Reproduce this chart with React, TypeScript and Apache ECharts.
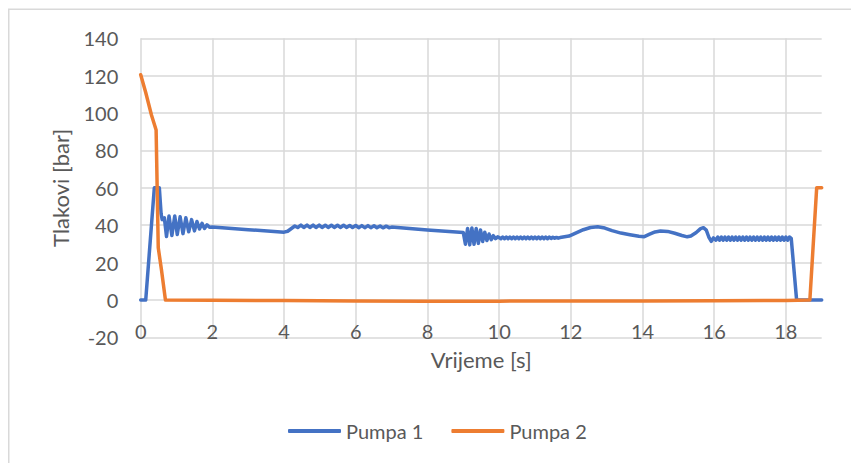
import React, { useEffect, useRef } from "react";
import * as echarts from "echarts";

const seriesNames = ["Pumpa 1", "Pumpa 2"];
const xAxisTitle = "Vrijeme [s]";
const yAxisTitle = "Tlakovi [bar]";

// Pumpa 1: [time s, pressure bar]
const pump1: [number, number][] = [
  [0, 0], [0.14, 0], [0.38, 60], [0.52, 60], [0.57, 46], [0.6, 43], [0.66, 44],
  [0.72, 34], [0.79, 45], [0.87, 34.5], [0.95, 45], [1.02, 35], [1.1, 44.5], [1.18, 35.5],
  [1.26, 44], [1.34, 36.5], [1.42, 43], [1.5, 37], [1.57, 42], [1.64, 38], [1.71, 41],
  [1.78, 38.3], [1.85, 40.2], [1.92, 38.9], [2.0, 39.0],
  [3.0, 37.6], [4.0, 36.3], [4.1, 36.8], [4.3, 39.6],
  [4.38, 38.8], [4.47, 40.1], [4.55, 38.8], [4.64, 40.1], [4.72, 38.8], [4.81, 40.1],
  [4.89, 38.8], [4.98, 40.1], [5.06, 38.8], [5.15, 40.0], [5.23, 38.8], [5.32, 40.0],
  [5.4, 38.8], [5.49, 40.0], [5.57, 38.8], [5.66, 40.0], [5.74, 38.8], [5.83, 39.9],
  [5.91, 38.8], [6.0, 39.9], [6.08, 38.7], [6.17, 39.8], [6.25, 38.7], [6.34, 39.8],
  [6.42, 38.7], [6.51, 39.7], [6.59, 38.7], [6.68, 39.6], [6.76, 38.6], [6.85, 39.5],
  [6.93, 38.7], [7.0, 39.0],
  [8.0, 37.4], [9.0, 36.1],
  [9.06, 29.8], [9.12, 38.3], [9.18, 29.5], [9.24, 38.5], [9.3, 29.8], [9.36, 38.2],
  [9.42, 30.3], [9.48, 37.5], [9.54, 31.3], [9.6, 36.3], [9.66, 31.8], [9.72, 35.3],
  [9.78, 32.3], [9.84, 34.4], [9.9, 32.8], [9.96, 33.8],
  [10.0, 33.4], [10.05, 32.8], [10.1, 33.7], [10.15, 32.8], [10.2, 33.7], [10.25, 32.8],
  [10.3, 33.7], [10.35, 32.8], [10.4, 33.7], [10.45, 32.8], [10.5, 33.7], [10.55, 32.8],
  [10.6, 33.7], [10.65, 32.8], [10.7, 33.7], [10.75, 32.8], [10.8, 33.7], [10.85, 32.8],
  [10.9, 33.7], [10.95, 32.8], [11.0, 33.7], [11.05, 32.8], [11.1, 33.7], [11.15, 32.8],
  [11.2, 33.7], [11.25, 32.8], [11.3, 33.7], [11.35, 32.8], [11.4, 33.7], [11.45, 32.9],
  [11.5, 33.6], [11.55, 33.0], [11.6, 33.5], [11.65, 33.1], [11.7, 33.4],
  [11.95, 34.2], [12.15, 35.9], [12.35, 37.6], [12.55, 38.8], [12.75, 39.2], [12.95, 38.5],
  [13.15, 37.1], [13.4, 35.8], [13.65, 34.9], [13.9, 34.1], [14.05, 33.9], [14.2, 35.2],
  [14.35, 36.4], [14.5, 36.9], [14.7, 36.7], [14.9, 35.7], [15.1, 34.5], [15.25, 33.8],
  [15.35, 34.2], [15.5, 36.1], [15.62, 38.2], [15.7, 38.7], [15.78, 37.4], [15.85, 33.7],
  [15.92, 31.4], [15.98, 33.2],
  [16.05, 32.0], [16.1, 33.7], [16.15, 32.0], [16.2, 33.7], [16.25, 32.0], [16.3, 33.7],
  [16.35, 32.0], [16.4, 33.7], [16.45, 32.0], [16.5, 33.7], [16.55, 32.0], [16.6, 33.7],
  [16.65, 32.0], [16.7, 33.7], [16.75, 32.0], [16.8, 33.7], [16.85, 32.0], [16.9, 33.7],
  [16.95, 32.0], [17.0, 33.7], [17.05, 32.0], [17.1, 33.7], [17.15, 32.0], [17.2, 33.7],
  [17.25, 32.0], [17.3, 33.7], [17.35, 32.0], [17.4, 33.7], [17.45, 32.0], [17.5, 33.7],
  [17.55, 32.0], [17.6, 33.7], [17.65, 32.0], [17.7, 33.7], [17.75, 32.0], [17.8, 33.7],
  [17.85, 32.0], [17.9, 33.7], [17.95, 32.0], [18.0, 33.7], [18.05, 32.0], [18.1, 33.7],
  [18.15, 33.0], [18.3, 0], [19.0, 0],
];

// Pumpa 2: [time s, pressure bar]
const pump2: [number, number][] = [
  [0, 120.5], [0.14, 111], [0.3, 99], [0.43, 91], [0.49, 28], [0.58, 16], [0.69, 0],
  [2, -0.1], [4, -0.3], [6, -0.5], [8, -0.6], [10, -0.6], [12, -0.5], [14, -0.5],
  [16, -0.4], [18, -0.2], [18.67, 0], [18.86, 60], [19, 60],
];

const xMin = 0;
const xMax = 19;
const xStep = 2;
const yMin = -20;
const yMax = 140;
const yStep = 20;

const FONT = "Lato";
const TEXT = "#595959";
const GRID = "#d9d9d9";

export default function App() {
  const ref = useRef<HTMLDivElement>(null);
  useEffect(() => {
    if (!ref.current) return;
    const chart = echarts.init(ref.current, null, { renderer: "svg" });
    chart.setOption({
      animation: false,
      backgroundColor: "#ffffff",
      textStyle: { fontFamily: FONT, color: TEXT },
      graphic: [
        {
          type: "rect",
          shape: { x: 8.75, y: 9.25, width: 1000, height: 1000 },
          style: { fill: "none", stroke: GRID, lineWidth: 1.5 },
          silent: true,
        },
      ],
      grid: { left: 140.7, top: 38.3, right: 29.3, bottom: 125.6, containLabel: false },
      legend: {
        data: seriesNames,
        left: 283,
        top: 416,
        icon: "roundRect",
        itemWidth: 53,
        itemHeight: 4,
        itemGap: 28,
        textStyle: { fontFamily: FONT, fontSize: 20, color: TEXT },
      },
      xAxis: {
        type: "value",
        min: xMin,
        max: xMax,
        interval: xStep,
        name: xAxisTitle,
        nameLocation: "middle",
        nameGap: 22,
        nameTextStyle: { fontFamily: FONT, fontSize: 22, color: TEXT, verticalAlign: "middle" },
        axisLine: { show: false, onZero: false },
        axisTick: { show: false },
        axisLabel: {
          fontFamily: FONT,
          fontSize: 20,
          color: TEXT,
          margin: -6.5,
          verticalAlign: "middle",
          showMaxLabel: false,
        },
        splitLine: { show: true, showMaxLine: false, lineStyle: { color: GRID, width: 1.5 } },
      },
      yAxis: {
        type: "value",
        min: yMin,
        max: yMax,
        interval: yStep,
        name: yAxisTitle,
        nameLocation: "middle",
        nameGap: 80,
        nameTextStyle: { fontFamily: FONT, fontSize: 22, color: TEXT, verticalAlign: "middle" },
        axisLine: { show: false },
        axisTick: { show: false },
        axisLabel: { fontFamily: FONT, fontSize: 20, color: TEXT, margin: 22.4 },
        splitLine: { show: true, lineStyle: { color: GRID, width: 1.5 } },
      },
      series: [
        {
          name: seriesNames[0],
          type: "line",
          data: pump1,
          symbol: "none",
          showSymbol: false,
          color: "#4472C4",
          lineStyle: { width: 3.5, color: "#4472C4", cap: "round", join: "round" },
          z: 2,
        },
        {
          name: seriesNames[1],
          type: "line",
          data: pump2,
          symbol: "none",
          showSymbol: false,
          color: "#ED7D31",
          lineStyle: { width: 3.5, color: "#ED7D31", cap: "round", join: "round" },
          z: 3,
        },
      ],
    });
    return () => chart.dispose();
  }, []);
  return (
    <div
      ref={ref}
      style={{ position: "fixed", left: 0, top: 0, width: 851, height: 463, background: "#fff" }}
    />
  );
}
